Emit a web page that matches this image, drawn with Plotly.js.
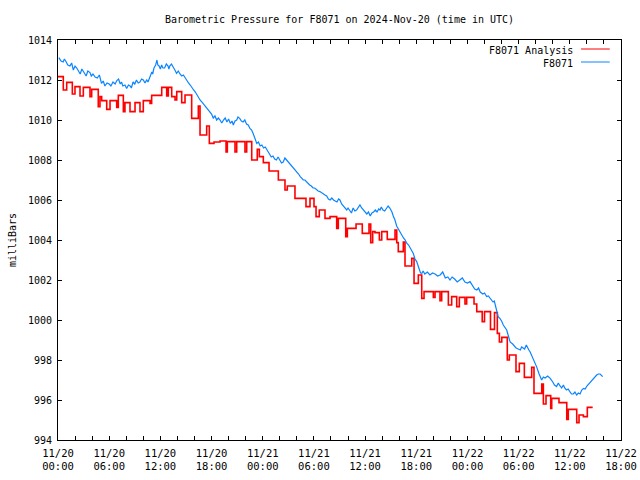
<!DOCTYPE html>
<html>
<head>
<meta charset="utf-8">
<script src="https://cdn.plot.ly/plotly-3.0.1.min.js"></script>
<style>html,body{margin:0;padding:0;background:#fff;}#chart{width:640px;height:480px;}</style>
</head>
<body>
<div id="chart"></div>
<script>
// Hours since 2024-11-20 00:00 UTC
var tickHours = [0, 6, 12, 18, 24, 30, 36, 42, 48, 54, 60, 66];
var tickDates = ["11/20","11/20","11/20","11/20","11/21","11/21","11/21","11/21","11/22","11/22","11/22","11/22"];
var tickTimes = ["00:00","06:00","12:00","18:00","00:00","06:00","12:00","18:00","00:00","06:00","12:00","18:00"];
var yTicks = [994, 996, 998, 1000, 1002, 1004, 1006, 1008, 1010, 1012, 1014];

// F8071 observed
var tObs = [
  0.1,0.35,0.6,0.75,0.9,1.15,1.4,1.6,1.8,2.0,
  2.2,2.4,2.6,2.8,3.0,3.15,3.3,3.5,3.75,3.9,
  4.1,4.35,4.6,4.85,5.1,5.3,5.5,5.75,6.0,6.2,
  6.45,6.7,6.9,7.1,7.3,7.45,7.6,7.85,8.05,8.25,
  8.45,8.6,8.8,9.0,9.2,9.4,9.6,9.8,10.0,10.2,
  10.4,10.55,10.7,10.85,11.0,11.1,11.25,11.45,11.6,11.7,
  11.85,12.0,12.15,12.3,12.5,12.7,12.9,13.0,13.1,13.3,
  13.5,13.7,13.9,14.1,14.3,14.5,14.7,14.9,15.1,15.3,
  15.5,15.7,15.9,16.1,16.3,16.65,17.0,17.4,17.8,18.0,
  18.2,18.4,18.6,18.8,19.0,19.2,19.4,19.6,19.8,20.0,
  20.2,20.4,20.55,20.75,20.95,21.1,21.3,21.5,21.7,21.9,
  22.1,22.3,22.5,22.7,22.9,23.1,23.3,23.5,23.7,23.9,
  24.1,24.3,24.5,24.7,24.85,25.0,25.2,25.4,25.6,25.8,
  26.0,26.2,26.4,26.6,26.8,27.0,27.2,27.4,27.6,27.8,
  28.0,28.2,28.4,28.55,28.75,28.95,29.15,29.3,29.5,29.7,
  29.9,30.1,30.3,30.5,30.7,30.9,31.1,31.3,31.5,31.7,
  31.9,32.1,32.3,32.5,32.7,32.9,33.05,33.25,33.45,33.65,
  33.85,34.0,34.2,34.4,34.6,34.8,35.0,35.2,35.4,35.6,
  35.8,36.0,36.2,36.4,36.6,36.8,37.0,37.2,37.4,37.6,
  37.75,37.9,38.1,38.3,38.5,38.7,38.9,39.15,39.3,39.5,
  39.7,39.9,40.1,40.3,40.5,40.7,40.9,41.1,41.3,41.5,
  41.65,41.85,42.05,42.3,42.5,42.65,42.8,43.0,43.3,43.6,
  43.9,44.2,44.5,44.8,45.1,45.4,45.7,45.95,46.2,46.5,
  46.8,47.1,47.4,47.7,48.0,48.3,48.6,48.85,49.1,49.3,
  49.5,49.8,50.0,50.25,50.45,50.6,50.8,51.0,51.15,51.35,
  51.6,51.8,52.0,52.2,52.4,52.6,52.8,53.0,53.3,53.5,
  53.7,53.95,54.2,54.35,54.5,54.7,54.9,55.05,55.2,55.35,
  55.5,55.8,56.1,56.4,56.7,56.9,57.1,57.4,57.7,58.0,
  58.2,58.45,58.65,58.85,59.05,59.25,59.4,59.6,59.8,60.0,
  60.2,60.4,60.6,60.8,61.0,61.2,61.4,61.6,61.8,62.0,
  62.2,62.4,62.6,62.8,63.0,63.15,63.35,63.55,63.85
];
var pObs = [
  1013.12,1012.95,1012.9,1013.05,1012.95,1012.75,1012.7,1012.85,1012.5,1012.7,
  1012.6,1012.45,1012.3,1012.55,1012.4,1012.25,1012.2,1012.45,1012.37,1012.2,
  1012.3,1012.15,1012.1,1012.25,1011.83,1011.95,1011.7,1011.85,1011.8,1011.7,
  1011.9,1011.8,1011.97,1012.05,1011.8,1011.9,1011.7,1011.75,1011.58,1011.75,
  1011.7,1011.6,1011.9,1011.8,1012.0,1011.85,1011.9,1012.05,1012.0,1011.85,
  1012.0,1011.9,1012.1,1012.2,1012.4,1012.3,1012.6,1012.75,1013.0,1012.75,
  1012.7,1012.55,1012.75,1012.6,1012.6,1012.8,1012.7,1012.55,1012.7,1012.8,
  1012.67,1012.5,1012.33,1012.45,1012.3,1012.2,1012.25,1012.1,1012.0,1011.85,
  1011.75,1011.6,1011.5,1011.4,1011.25,1011.0,1010.83,1010.6,1010.42,1010.3,
  1010.1,1010.2,1010.0,1010.1,1010.0,1009.85,1010.0,1010.1,1009.9,1010.05,
  1009.83,1009.95,1009.75,1009.95,1010.0,1010.15,1010.08,1009.95,1009.9,1010.0,
  1009.8,1009.75,1009.58,1009.5,1009.3,1009.0,1008.83,1008.9,1008.7,1008.75,
  1008.6,1008.65,1008.5,1008.35,1008.3,1008.15,1008.2,1008.05,1008.0,1008.15,
  1008.0,1007.85,1007.9,1008.1,1008.0,1007.9,1007.83,1007.7,1007.6,1007.5,
  1007.4,1007.3,1007.17,1007.1,1007.0,1007.0,1006.9,1006.8,1006.75,1006.7,
  1006.6,1006.6,1006.5,1006.45,1006.42,1006.35,1006.3,1006.25,1006.2,1006.05,
  1006.0,1006.1,1006.0,1005.95,1005.9,1006.05,1006.0,1005.8,1005.7,1005.55,
  1005.5,1005.6,1005.5,1005.35,1005.6,1005.45,1005.5,1005.6,1005.75,1005.6,
  1005.5,1005.4,1005.3,1005.4,1005.2,1005.35,1005.4,1005.5,1005.4,1005.55,
  1005.5,1005.65,1005.5,1005.45,1005.6,1005.7,1005.6,1005.4,1005.2,1005.0,
  1004.7,1004.55,1004.33,1004.25,1004.1,1004.0,1003.83,1003.75,1003.6,1003.45,
  1003.33,1003.05,1002.92,1002.6,1002.35,1002.33,1002.45,1002.3,1002.4,1002.25,
  1002.35,1002.3,1002.2,1002.25,1002.4,1002.1,1002.15,1002.0,1002.15,1002.05,
  1001.9,1002.0,1002.1,1001.9,1001.85,1001.92,1001.7,1001.55,1001.5,1001.6,
  1001.4,1001.3,1001.35,1001.17,1001.2,1001.1,1001.0,1000.9,1000.95,1000.6,
  1000.17,1000.08,999.95,999.75,999.65,999.5,999.2,998.9,998.8,998.7,
  998.6,998.55,998.5,998.65,998.6,998.55,998.75,998.6,998.5,998.4,
  998.25,998.0,997.67,997.3,997.0,997.15,997.1,997.2,997.08,996.9,
  996.75,996.67,996.85,996.7,996.6,996.75,996.6,996.5,996.55,996.42,
  996.3,996.3,996.4,996.25,996.35,996.3,996.5,996.58,996.55,996.7,
  996.8,996.92,997.0,997.1,997.2,997.25,997.3,997.3,997.17
];

// F8071 Analysis (stepped)
var tAna = [
  0,0.62,1.02,1.68,1.99,2.58,2.97,3.75,3.95,4.72,
  4.92,5.12,5.71,6.10,6.88,7.07,7.66,7.85,8.44,9.03,
  9.61,10.00,10.79,10.98,12.16,12.74,12.93,13.33,13.72,13.92,
  14.50,14.89,15.67,16.45,16.65,17.43,17.74,18.29,18.99,19.70,
  19.85,20.75,20.95,21.92,22.12,22.71,23.36,23.60,24.07,24.74,
  25.83,26.61,26.88,27.78,29.07,29.54,30.01,30.25,30.63,31.30,
  31.89,32.67,32.86,33.73,33.92,34.94,35.67,36.46,36.66,36.89,
  37.16,37.67,37.95,38.60,39.51,39.71,39.89,40.48,40.68,41.47,
  41.74,42.24,42.64,42.91,44.00,44.20,44.78,44.98,45.76,46.15,
  46.74,47.05,47.71,47.91,48.77,49.09,49.73,50.00,50.70,51.17,
  51.50,51.74,52.02,52.67,52.91,53.69,54.08,54.67,55.53,55.80,
  56.71,56.90,57.21,57.76,57.88,58.73,59.64,59.82,60.81,61.08,
  61.59,62.05,62.68
];
var pAna = [
  1012.17,1011.5,1011.88,1011.3,1011.67,1011.2,1011.63,1011.17,1011.53,1010.67,
  1011.17,1010.97,1010.53,1010.97,1010.63,1011.23,1010.42,1010.87,1010.42,1010.87,
  1010.42,1010.97,1010.83,1011.23,1011.63,1011.2,1011.63,1011.17,1011.0,1011.42,
  1010.87,1011.25,1010.08,1010.7,1009.25,1009.7,1008.83,1008.9,1008.95,1008.4,
  1008.92,1008.4,1008.92,1008.4,1008.92,1008.0,1008.53,1008.17,1007.87,1007.45,
  1007.0,1006.5,1006.7,1006.08,1005.67,1006.08,1005.67,1005.17,1005.5,1005.08,
  1005.17,1004.58,1005.08,1004.17,1004.58,1004.8,1004.33,1004.8,1003.87,1004.42,
  1004.37,1004.0,1004.42,1004.03,1004.5,1003.87,1003.42,1003.9,1002.7,1003.08,
  1001.83,1002.25,1001.08,1001.42,1001.13,1001.42,1000.97,1001.42,1000.75,1001.17,
  1000.67,1001.13,1000.8,1001.13,1000.8,1000.42,999.92,1000.42,999.53,1000.37,
  999.33,998.9,999.13,998.0,998.25,997.42,997.83,997.13,997.63,996.33,
  996.8,995.8,996.22,995.58,996.08,995.87,995.03,995.53,994.87,995.25,
  995.17,995.63,995.63
];

var seriesNames = ["F8071 Analysis", "F8071"];
var seriesColors = ["#ff0000", "#0a84ff"];

var FONT = "DejaVu Sans Mono, monospace";

var traces = [
  {x: tAna, y: pAna, type: "scatter", mode: "lines", name: seriesNames[0],
   line: {color: seriesColors[0], width: 1.6, shape: "hv"}, showlegend: false},
  {x: tObs, y: pObs, type: "scatter", mode: "lines", name: seriesNames[1],
   line: {color: seriesColors[1], width: 1.2}, showlegend: false}
];

var tickText = tickDates.map(function (d, i) { return d + "<br>" + tickTimes[i]; });

var layout = {
  width: 640, height: 480,
  margin: {l: 58, r: 19, t: 40, b: 40, pad: 0},
  paper_bgcolor: "#fff", plot_bgcolor: "#fff",
  font: {family: FONT, size: 10, color: "#000"},
  title: {text: "Barometric Pressure for F8071 on 2024-Nov-20 (time in UTC)",
          font: {family: FONT, size: 10, color: "#000"},
          xref: "paper", x: 0.5, xanchor: "center",
          yref: "container", y: 1 - 19 / 480, yanchor: "middle"},
  xaxis: {
    range: [0, 66], tickmode: "array", tickvals: tickHours, ticktext: tickText,
    ticks: "inside", ticklen: 4, tickwidth: 1, tickcolor: "#000",
    showline: true, linecolor: "#000", linewidth: 1, mirror: "allticks",
    showgrid: false, zeroline: false, fixedrange: true, ticklabelstandoff: 3,
    tickfont: {family: FONT, size: 10.5, color: "#000"},
    minor: {tickmode: "linear", tick0: 0, dtick: 2, ticks: "inside", ticklen: 4, tickwidth: 1, tickcolor: "#000", showgrid: false}
  },
  yaxis: {
    range: [994, 1014], tickmode: "array", tickvals: yTicks,
    ticks: "inside", ticklen: 4, tickwidth: 1, tickcolor: "#000",
    showline: true, linecolor: "#000", linewidth: 1, mirror: "allticks",
    showgrid: false, zeroline: false, fixedrange: true, ticklabelstandoff: 3,
    tickfont: {family: FONT, size: 10, color: "#000"},
    title: {text: "milliBars", font: {family: FONT, size: 10, color: "#000"}, standoff: 9}
  },
  annotations: [
    {xref: "paper", yref: "paper", x: 0.918, y: 0.975, xanchor: "right", yanchor: "middle",
     text: seriesNames[0], showarrow: false, font: {family: FONT, size: 10, color: "#000"}},
    {xref: "paper", yref: "paper", x: 0.918, y: 0.9425, xanchor: "right", yanchor: "middle",
     text: seriesNames[1], showarrow: false, font: {family: FONT, size: 10, color: "#000"}}
  ],
  shapes: [
    {type: "line", xref: "paper", yref: "paper", x0: 0.929, x1: 0.980, y0: 0.9775, y1: 0.9775,
     line: {color: seriesColors[0], width: 1}},
    {type: "line", xref: "paper", yref: "paper", x0: 0.929, x1: 0.980, y0: 0.945, y1: 0.945,
     line: {color: seriesColors[1], width: 1}}
  ]
};

Plotly.newPlot("chart", traces, layout, {displayModeBar: false, staticPlot: true});
</script>
</body>
</html>
